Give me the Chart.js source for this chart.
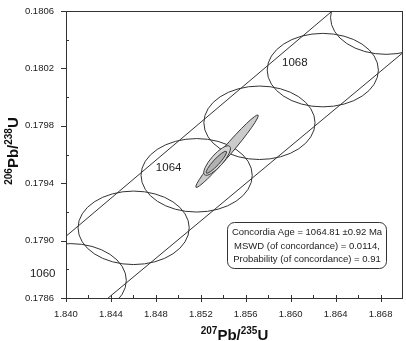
<!DOCTYPE html>
<html>
<head>
<meta charset="utf-8">
<script src="https://cdn.jsdelivr.net/npm/chart.js@4/dist/chart.umd.min.js"></script>
<style>
  html, body { margin: 0; padding: 0; background: #fff; }
  canvas { display: block; }
</style>
</head>
<body>
<canvas id="c" width="406" height="341"></canvas>
<script>
// tick labels
const xTickLabels = [1.840, 1.844, 1.848, 1.852, 1.856, 1.860, 1.864, 1.868];
const yTickLabels = [0.1786, 0.1790, 0.1794, 0.1798, 0.1802, 0.1806];

// concordia age markers (every 2 Ma)
const markerAges = [1060, 1062, 1064, 1066, 1068, 1070];
const markerX = [1.84042, 1.84602, 1.85163, 1.85722, 1.86286, 1.86850];
const markerY = [0.178723, 0.179089, 0.179455, 0.179821, 0.180188, 0.180554];
const markerRx = [0.00495, 0.00495, 0.00495, 0.00495, 0.00495, 0.00495];
const markerRy = [0.000256, 0.000256, 0.000256, 0.000256, 0.000256, 0.000256];
const labelledAges = [1060, 1064, 1068];

// concordia band (decay constant errors)
const bandUpperX = [1.8400, 1.8637];
const bandUpperY = [0.17903, 0.1806];
const bandLowerX = [1.84375, 1.8700];
const bandLowerY = [0.1786, 0.18031];

// data error ellipses: centre, half extents, correlation
const ellX = [1.854334, 1.853451, 1.853380];
const ellY = [0.179623, 0.179558, 0.179546];
const ellSx = [0.00278, 0.001185, 0.000914];
const ellSy = [0.0002526, 0.0001027, 0.0000770];
const ellRho = [0.981, 0.814, 0.919];
const ellFill = ['#cbcbcb', '#d6d6d6', '#b2b2b2'];

const boxLines = [
    'Concordia Age = 1064.81 \u00b10.92 Ma',
    'MSWD (of concordance) = 0.0114,',
    'Probability (of concordance) = 0.91'
];

const isMajor = (v, list) => list.some(t => Math.abs(t - v) < 1e-7);

function ellipsePath(ctx, xs, ys, cx, cy, sx, sy, rho) {
    const px = xs.getPixelForValue(cx), py = ys.getPixelForValue(cy);
    const kx = Math.abs(xs.getPixelForValue(cx + sx) - px);
    const ky = Math.abs(ys.getPixelForValue(cy + sy) - py);
    const a = kx * kx, d = ky * ky, b = -rho * kx * ky;
    const th = 0.5 * Math.atan2(2 * b, a - d);
    const tr = (a + d) / 2, df = Math.sqrt(((a - d) / 2) ** 2 + b * b);
    ctx.beginPath();
    ctx.ellipse(px, py, Math.sqrt(tr + df), Math.sqrt(Math.max(tr - df, 0.01)), th, 0, Math.PI * 2);
}

function supText(ctx, parts, x, y, big, small) {
    // parts: [sup, main, sup, main]
    let w = 0;
    parts.forEach((p, i) => {
        ctx.font = 'bold ' + (i % 2 === 0 ? small : big) + 'px "Liberation Sans", Arial, sans-serif';
        w += ctx.measureText(p).width;
    });
    let cx = x - w / 2;
    ctx.textAlign = 'left';
    ctx.textBaseline = 'alphabetic';
    parts.forEach((p, i) => {
        const sup = i % 2 === 0;
        ctx.font = 'bold ' + (sup ? small : big) + 'px "Liberation Sans", Arial, sans-serif';
        ctx.fillText(p, cx, sup ? y - big * 0.42 : y);
        cx += ctx.measureText(p).width;
    });
}

const concordiaPlugin = {
    id: 'concordia',
    beforeDatasetsDraw(chart) {
        const { ctx, chartArea: ca, scales: { x, y } } = chart;
        ctx.save();
        ctx.beginPath();
        ctx.rect(ca.left, ca.top, ca.right - ca.left, ca.bottom - ca.top);
        ctx.clip();
        ctx.strokeStyle = '#333';
        ctx.lineWidth = 1;
        markerAges.forEach((age, i) => {
            ellipsePath(ctx, x, y, markerX[i], markerY[i], markerRx[i], markerRy[i], 0);
            ctx.stroke();
        });
        ctx.restore();
    },
    afterDatasetsDraw(chart) {
        const { ctx, chartArea: ca, scales: { x, y } } = chart;
        ctx.save();
        ctx.beginPath();
        ctx.rect(ca.left, ca.top, ca.right - ca.left, ca.bottom - ca.top);
        ctx.clip();
        ctx.lineWidth = 1;
        ellX.forEach((v, i) => {
            ellipsePath(ctx, x, y, ellX[i], ellY[i], ellSx[i], ellSy[i], ellRho[i]);
            ctx.fillStyle = ellFill[i];
            ctx.fill();
            ctx.strokeStyle = '#3a3a3a';
            ctx.stroke();
        });
        ctx.restore();

        ctx.save();
        // frame
        ctx.strokeStyle = '#333';
        ctx.lineWidth = 1;
        ctx.strokeRect(Math.round(ca.left) + 0.5, Math.round(ca.top) + 0.5,
            Math.round(ca.right - ca.left) - 1, Math.round(ca.bottom - ca.top));
        // tick marks
        ctx.beginPath();
        x.ticks.forEach(t => {
            const px = Math.round(x.getPixelForValue(t.value)) + 0.5;
            if (isMajor(t.value, xTickLabels)) {
                ctx.moveTo(px, ca.bottom - 3); ctx.lineTo(px, ca.bottom + 4);
            } else if (t.value < x.max - 1e-6) {
                ctx.moveTo(px, ca.bottom - 3); ctx.lineTo(px, ca.bottom);
            }
        });
        y.ticks.forEach(t => {
            const py = Math.round(y.getPixelForValue(t.value)) + 0.5;
            if (isMajor(t.value, yTickLabels)) {
                ctx.moveTo(ca.left - 5, py); ctx.lineTo(ca.left, py);
            } else {
                ctx.moveTo(ca.left, py); ctx.lineTo(ca.left + 3, py);
            }
        });
        ctx.stroke();

        // age labels
        ctx.fillStyle = '#222';
        ctx.font = '11.5px "Liberation Sans", Arial, sans-serif';
        ctx.textAlign = 'center';
        ctx.textBaseline = 'middle';
        markerAges.forEach((age, i) => {
            if (!labelledAges.includes(age)) return;
            const px = x.getPixelForValue(markerX[i]) - 28;
            const py = y.getPixelForValue(markerY[i]) - 7;
            ctx.fillText(String(age), px, py);
        });

        // result box
        const bx = 227.5, by = 222.5, bw = 159, bh = 46;
        ctx.beginPath();
        ctx.roundRect(bx, by, bw, bh, 7);
        ctx.fillStyle = '#fff';
        ctx.fill();
        ctx.strokeStyle = '#333';
        ctx.stroke();
        ctx.fillStyle = '#222';
        ctx.font = '9.5px "Liberation Sans", Arial, sans-serif';
        boxLines.forEach((s, i) => ctx.fillText(s, bx + bw / 2, by + 10 + i * 13.5));

        // axis titles
        ctx.fillStyle = '#111';
        supText(ctx, ['207', 'Pb/', '235', 'U'], (ca.left + ca.right) / 2, 340, 15, 10);
        ctx.translate(18, 151);
        ctx.rotate(-Math.PI / 2);
        supText(ctx, ['206', 'Pb/', '238', 'U'], 0, 0, 15, 10);
        ctx.restore();
    }
};

new Chart(document.getElementById('c'), {
    type: 'scatter',
    data: {
        datasets: [
            {
                data: bandUpperX.map((v, i) => ({ x: v, y: bandUpperY[i] })),
                showLine: true, borderColor: '#333', borderWidth: 1, pointRadius: 0
            },
            {
                data: bandLowerX.map((v, i) => ({ x: v, y: bandLowerY[i] })),
                showLine: true, borderColor: '#333', borderWidth: 1, pointRadius: 0
            }
        ]
    },
    options: {
        responsive: false,
        animation: false,
        devicePixelRatio: 1,
        layout: { padding: { top: 11, right: 3, left: 0, bottom: 0 } },
        plugins: { legend: { display: false }, tooltip: { enabled: false } },
        scales: {
            x: {
                type: 'linear',
                min: 1.840, max: 1.870,
                border: { display: false },
                grid: { display: false },
                afterFit: s => { s.height = 43; },
                ticks: {
                    stepSize: 0.002,
                    autoSkip: false,
                    maxRotation: 0,
                    padding: 3,
                    color: '#222',
                    font: { family: '"Liberation Sans", Arial, sans-serif', size: 9.5 },
                    callback: v => isMajor(v, xTickLabels) ? v.toFixed(3) : ''
                }
            },
            y: {
                type: 'linear',
                min: 0.1786, max: 0.1806,
                border: { display: false },
                grid: { display: false },
                afterFit: s => { s.width = 66; },
                ticks: {
                    stepSize: 0.0002,
                    autoSkip: false,
                    padding: 4,
                    color: '#222',
                    font: { family: '"Liberation Sans", Arial, sans-serif', size: 9.5 },
                    callback: v => isMajor(v, yTickLabels) ? v.toFixed(4) : ''
                }
            }
        }
    },
    plugins: [concordiaPlugin]
});
</script>
</body>
</html>
